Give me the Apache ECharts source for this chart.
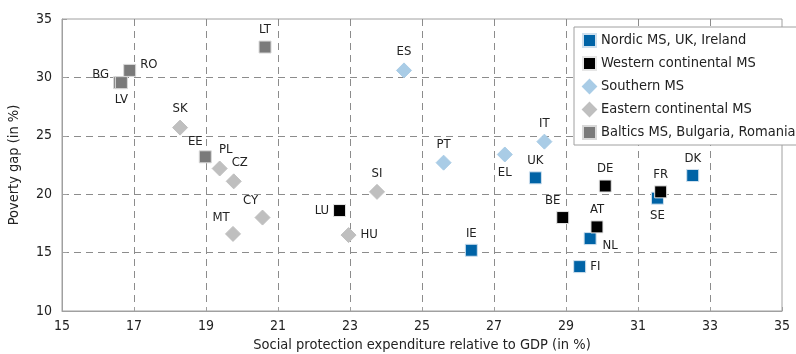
<!DOCTYPE html>
<html>
<head>
<meta charset="utf-8">
<script src="https://cdn.jsdelivr.net/npm/echarts@6/dist/echarts.min.js"></script>
<style>
  html, body { margin: 0; padding: 0; background: #fff; }
  #chart { width: 796px; height: 354px; }
</style>
</head>
<body>
<div id="chart"></div>
<script>
// Datos: [gasto social % PIB, brecha de pobreza %, etiqueta, posición de etiqueta]
var nordic = [
    [28.15, 21.4, "UK", "top"],
    [26.37, 15.2, "IE", "top"],
    [32.52, 21.6, "DK", "top"],
    [31.54, 19.66, "SE", "bottom"],
    [29.67, 16.2, "NL", "right"],
    [29.38, 13.8, "FI", "right"]
];
var western = [
    [30.09, 20.7, "DE", "top"],
    [31.63, 20.2, "FR", "top"],
    [28.91, 18.0, "BE", "top"],
    [29.86, 17.2, "AT", "top"],
    [22.71, 18.6, "LU", "left"]
];
var southern = [
    [24.5, 30.6, "ES", "top"],
    [28.4, 24.5, "IT", "top"],
    [27.3, 23.4, "EL", "bottom"],
    [25.6, 22.7, "PT", "top"]
];
var eastern = [
    [18.28, 25.7, "SK", "top"],
    [19.38, 22.2, "PL", "top"],
    [19.77, 21.1, "CZ", "top"],
    [20.57, 18.0, "CY", "top"],
    [19.75, 16.6, "MT", "top"],
    [23.75, 20.2, "SI", "top"],
    [22.96, 16.5, "HU", "right"]
];
var baltics = [
    [20.64, 32.6, "LT", "top"],
    [16.88, 30.6, "RO", "right"],
    [16.6, 29.55, "BG", "left"],
    [16.65, 29.55, "LV", "bottom"],
    [18.98, 23.2, "EE", "top"]
];

var seriesNames = ["Nordic MS, UK, Ireland", "Western continental MS", "Southern MS",
    "Eastern continental MS", "Baltics MS, Bulgaria, Romania"];

var fontFamily = "'DejaVu Sans Condensed', 'DejaVu Sans', sans-serif";
var textColor = "#222";

// Ajustes finos de etiquetas para algunos países
var labelOffsets = {
    PL: [6, 0], CZ: [6, 0], CY: [-12, 2], MT: [-12, 2], EE: [-10, 2],
    BE: [-10, 0], RO: [0, -6], BG: [0, -8], NL: [2, 7], FI: [0, 0]
};

function toData(rows) {
    return rows.map(function (r) {
        return {
            value: [r[0], r[1]],
            name: r[2],
            label: { position: r[3], offset: labelOffsets[r[2]] || [0, 0] }
        };
    });
}

function makeSeries(name, rows, symbol, color, size, border) {
    return {
        name: name,
        type: "scatter",
        data: toData(rows),
        symbol: symbol,
        symbolSize: size,
        itemStyle: { color: color, borderColor: border, borderWidth: 1, opacity: 1 },
        label: {
            show: true,
            formatter: "{b}",
            color: textColor,
            fontFamily: fontFamily,
            fontSize: 13,
            distance: 4
        }
    };
}

var chart = echarts.init(document.getElementById("chart"));

var option = {
    backgroundColor: "#fff",
    animation: false,
    grid: {
        left: 62, right: 14, top: 19, bottom: 43,
        outerBoundsMode: "none",
        show: true, borderColor: "#a0a0a0", borderWidth: 1
    },
    legend: {
        orient: "vertical",
        left: 574, top: 27,
        backgroundColor: "#fff",
        borderColor: "#a0a0a0",
        borderWidth: 1,
        padding: [6, 10, 5, 8],
        itemGap: 8,
        itemWidth: 13,
        itemHeight: 13,
        textStyle: { color: textColor, fontFamily: fontFamily, fontSize: 14.5 },
        data: seriesNames
    },
    xAxis: {
        type: "value",
        min: 15, max: 35, interval: 2,
        name: "Social protection expenditure relative to GDP (in %)",
        nameLocation: "middle",
        nameGap: 26,
        nameTextStyle: { color: textColor, fontFamily: fontFamily, fontSize: 14.5, verticalAlign: "top" },
        axisLine: { show: true, lineStyle: { color: "#a0a0a0" } },
        axisTick: { show: true, inside: true, length: 4, lineStyle: { color: "#a0a0a0" } },
        axisLabel: { color: textColor, fontFamily: fontFamily, fontSize: 14, margin: 8 },
        splitLine: { show: true, showMinLine: false, showMaxLine: false,
            lineStyle: { color: "#8c8c8c", type: [7, 5] } }
    },
    yAxis: {
        type: "value",
        min: 10, max: 35, interval: 5,
        name: "Poverty gap (in %)",
        nameLocation: "middle",
        nameGap: 40,
        nameTextStyle: { color: textColor, fontFamily: fontFamily, fontSize: 14.5 },
        axisLine: { show: true, lineStyle: { color: "#a0a0a0" } },
        axisTick: { show: true, inside: true, length: 5, lineStyle: { color: "#a0a0a0" } },
        axisLabel: { color: textColor, fontFamily: fontFamily, fontSize: 14, margin: 10 },
        splitLine: { show: true, showMinLine: false, showMaxLine: false,
            lineStyle: { color: "#8c8c8c", type: [7, 5] } }
    },
    series: [
        makeSeries(seriesNames[0], nordic, "rect", "#0063a6", 12, "#cfe0ee"),
        makeSeries(seriesNames[1], western, "rect", "#000000", 12, "#e6e6e6"),
        makeSeries(seriesNames[2], southern, "diamond", "#a9cce6", 15, "#a9cce6"),
        makeSeries(seriesNames[3], eastern, "diamond", "#bfbfbf", 15, "#bfbfbf"),
        makeSeries(seriesNames[4], baltics, "rect", "#7a7a7a", 12, "#d9d9d9")
    ]
};

chart.setOption(option);
</script>
</body>
</html>
